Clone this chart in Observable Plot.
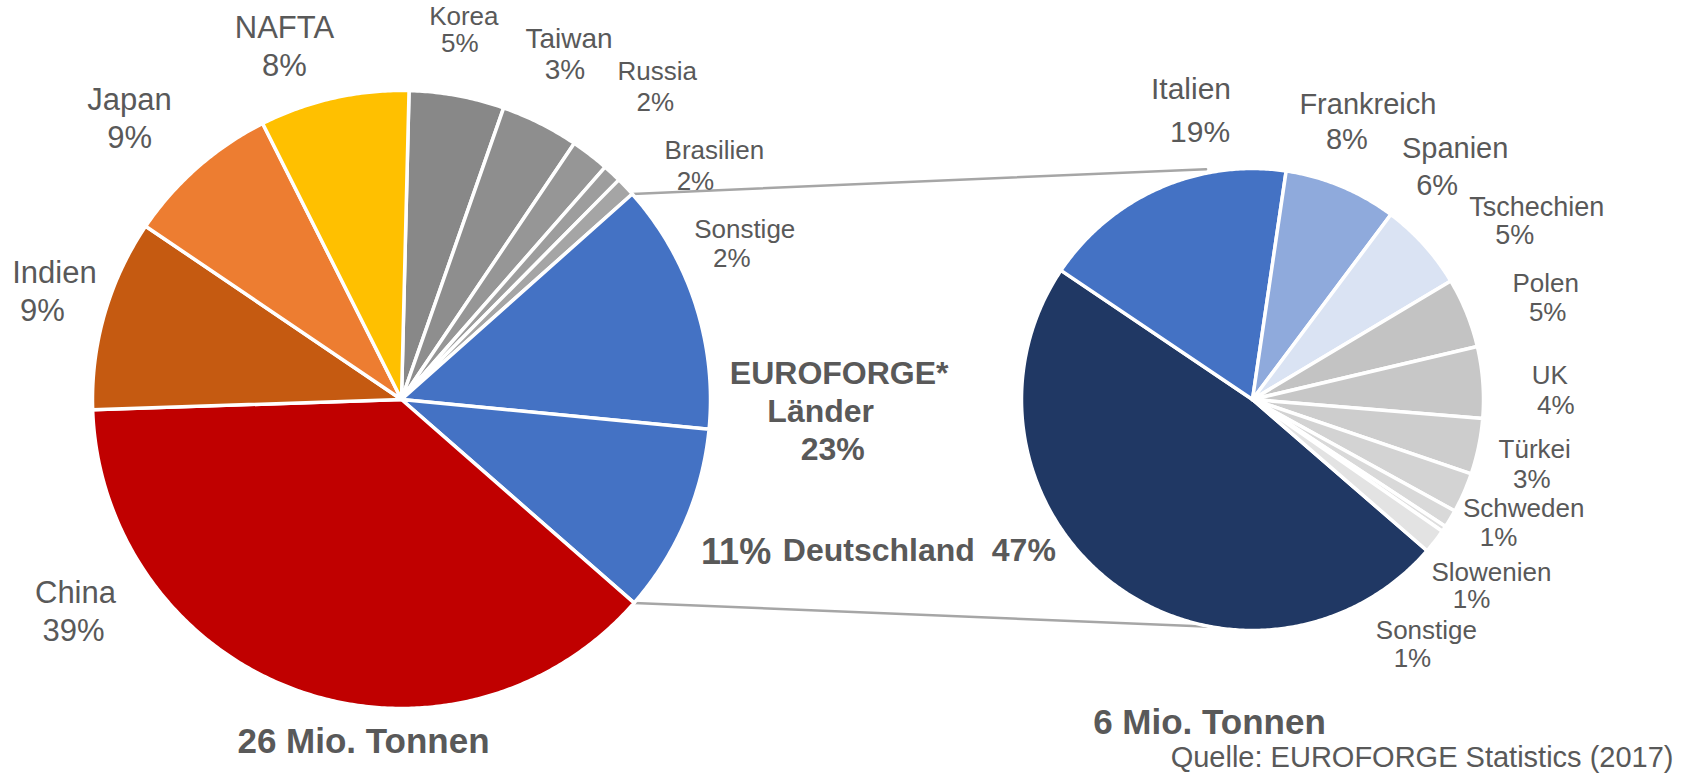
<!DOCTYPE html>
<html>
<head>
<meta charset="utf-8">
<script src="https://cdn.jsdelivr.net/npm/d3@7"></script>
<script src="https://cdn.jsdelivr.net/npm/@observablehq/plot@0.6"></script>
<style>
  html, body { margin: 0; padding: 0; background: #ffffff; }
  #chart svg { display: block; }
</style>
</head>
<body>
<div id="chart"></div>
<script>
// ---------------- DATA ----------------
// World forging production (left pie), clockwise
const worldRegions = ["Korea", "Taiwan", "Russia", "Brasilien", "Sonstige", "EUROFORGE übrige", "Deutschland", "China", "Indien", "Japan", "NAFTA"];
const worldShares  = [4.97, 4.08, 2.0, 0.97, 1.0, 13.1, 9.9, 38.0, 10.0, 8.1, 7.8];
const worldNameLabels = ["Korea", "Taiwan", "Russia", "Brasilien", "Sonstige", "", "", "China", "Indien", "Japan", "NAFTA"];
const worldPctLabels  = ["5%", "3%", "2%", "2%", "2%", "", "11%", "39%", "9%", "9%", "8%"];
// EUROFORGE countries (right pie), clockwise
const europeCountries = ["Deutschland", "Italien", "Frankreich", "Spanien", "Tschechien", "Polen", "UK", "Türkei", "Schweden", "Slowenien", "Sonstige"];
const europeShares    = [48.1, 17.9, 7.9, 6.2, 4.9, 5.0, 3.9, 2.8, 1.25, 0.4, 1.7];
const europePctLabels = ["47%", "19%", "8%", "6%", "5%", "5%", "4%", "3%", "1%", "1%", "1%"];
const groupLabelLines = ["EUROFORGE*", "Länder", "23%"];
const totalLabels = ["26 Mio. Tonnen", "6 Mio. Tonnen"];
const sourceLabel = "Quelle: EUROFORGE Statistics (2017)";

// ---------------- STYLE / LAYOUT ----------------
const W = 1695, H = 775;
const TEXT = "#595959";
const worldColors = ["#888888", "#8e8e8e", "#969696", "#9d9d9d", "#a5a5a5", "#4472C4", "#4472C4", "#C00000", "#C55A11", "#ED7D31", "#FFC000"];
const europeColors = ["#203864", "#4472C4", "#8FAADC", "#DAE3F3", "#c3c3c3", "#c7c7c7", "#cdcdcd", "#d3d3d3", "#d9d9d9", "#dedede", "#e3e3e3"];
const leftPie  = {cx: 401, cy: 399, r: 309, start: 1.4};
const rightPie = {cx: 1252, cy: 399, r: 231, start: 130.9};
// label anchors: [angle (deg, clockwise from 12 o'clock), radius factor], pct line shift [dx, dy], font size
const worldLabelPolar = [[9.24,1.256],[24.95,1.285],[37.95,1.346],[51.5,1.294],[63.7,1.239],null,[114.5,1.19],[239.3,1.227],[289.95,1.195],[317.8,1.31],[342.5,1.26]];
const worldPctShift   = [[-4,27],[-4,31],[-2,31],[-19,31],[-13,29],null,[0,0],[-2,38],[-12,38],[0,38],[0,38]];
const worldFont       = [26, 28, 26, 26, 26, 0, 36, 31, 31, 31, 31];
const europeLabelPolar = [[247.9,1.746],[348.8,1.37],[21.4,1.369],[38.9,1.397],[56,1.484],[68.5,1.364],[85.4,1.291],[100.1,1.241],[112,1.266],[125.9,1.277],[143,1.251]];
const europePctShift   = [[145,0],[9,43],[-21,35],[-18,37],[-22,28],[2,29],[6,30],[-3,30],[-25,29],[-20,27],[-14,28]];
const europeFont       = [32, 30, 29, 29, 27, 26, 26, 26, 26, 26, 26];
const groupPolar = [86.6, 1.419];
const groupShift = [[0,0],[-18.5,38],[-6.5,76]];

// ---------------- GEOMETRY ----------------
const rad = d => d * Math.PI / 180;
const polar = (p, deg, rr) => [p.cx + rr * Math.sin(rad(deg)), p.cy - rr * Math.cos(rad(deg))];

function slices(keys, values, pie) {
  const total = d3.sum(values);
  let a = pie.start;
  return keys.map((k, i) => {
    const a0 = a, a1 = a + values[i] / total * 360;
    a = a1;
    return {key: k, i, a0, a1};
  });
}
function polygons(sl, pie, colors, tag) {
  const pts = [];
  for (const s of sl) {
    const id = tag + ":" + s.i;
    pts.push({id, x: pie.cx, y: pie.cy, color: colors[s.i]});
    const n = Math.max(2, Math.ceil((s.a1 - s.a0) / 0.5));
    for (let j = 0; j <= n; j++) {
      const [x, y] = polar(pie, s.a0 + (s.a1 - s.a0) * j / n, pie.r);
      pts.push({id, x, y, color: colors[s.i]});
    }
  }
  return pts;
}

const worldSlices = slices(worldRegions, worldShares, leftPie);
const europeSlices = slices(europeCountries, europeShares, rightPie);
const polys = [...polygons(worldSlices, leftPie, worldColors, "w"), ...polygons(europeSlices, rightPie, europeColors, "e")];

// connector lines from EUROFORGE group edges to the second pie
const groupStart = worldSlices[worldRegions.indexOf("EUROFORGE übrige")].a0;
const groupEnd = worldSlices[worldRegions.indexOf("Deutschland")].a1;
const connectors = [];
{
  const [x1, y1] = polar(leftPie, groupStart, leftPie.r);
  const [x2, y2] = polar(rightPie, 348.6, rightPie.r + 4);
  connectors.push({id: "top", x: x1, y: y1}, {id: "top", x: x2, y: y2});
  const [x3, y3] = polar(leftPie, groupEnd, leftPie.r);
  const [x4, y4] = polar(rightPie, 190.4, rightPie.r);
  connectors.push({id: "bot", x: x3, y: y3}, {id: "bot", x: x4, y: y4});
}

// labels
const normal = [], bold = [];
worldRegions.forEach((k, i) => {
  const pp = worldLabelPolar[i];
  if (!pp) return;
  const [x, y] = polar(leftPie, pp[0], leftPie.r * pp[1]);
  const target = k === "Deutschland" ? bold : normal;
  if (worldNameLabels[i]) target.push({x, y, text: worldNameLabels[i], size: worldFont[i]});
  target.push({x: x + worldPctShift[i][0], y: y + worldPctShift[i][1], text: worldPctLabels[i], size: worldFont[i]});
});
europeCountries.forEach((k, i) => {
  const pp = europeLabelPolar[i];
  const [x, y] = polar(rightPie, pp[0], rightPie.r * pp[1]);
  const target = k === "Deutschland" ? bold : normal;
  target.push({x, y, text: k, size: europeFont[i]});
  target.push({x: x + europePctShift[i][0], y: y + europePctShift[i][1], text: europePctLabels[i], size: europeFont[i]});
});
{
  const [gx, gy] = polar(leftPie, groupPolar[0], leftPie.r * groupPolar[1]);
  groupLabelLines.forEach((t, i) => bold.push({x: gx + groupShift[i][0], y: gy + groupShift[i][1], text: t, size: 32}));
}
bold.push({x: leftPie.cx - 38, y: leftPie.cy + 342, text: totalLabels[0], size: 35});
bold.push({x: rightPie.cx - 43, y: rightPie.cy + 323, text: totalLabels[1], size: 35});
const sourceRow = [{x: W - 22, y: 757, text: sourceLabel}];

const chart = Plot.plot({
  width: W,
  height: H,
  margin: 0,
  x: {domain: [0, W], range: [0, W], axis: null},
  y: {domain: [0, H], range: [0, H], axis: null},
  color: {type: "identity"},
  style: {fontFamily: "'Liberation Sans', Arial, sans-serif", background: "#ffffff", color: TEXT},
  marks: [
    Plot.line(connectors, {x: "x", y: "y", z: "id", stroke: "#A6A6A6", strokeWidth: 2.5}),
    Plot.line(polys, {x: "x", y: "y", z: "id", fill: "color", stroke: "#ffffff", strokeWidth: 3.5, strokeLinejoin: "round", curve: "linear-closed"}),
    Plot.text(normal, {x: "x", y: "y", text: "text", fontSize: "size", fill: TEXT}),
    Plot.text(bold, {x: "x", y: "y", text: "text", fontSize: "size", fontWeight: "bold", fill: TEXT}),
    Plot.text(sourceRow, {x: "x", y: "y", text: "text", fontSize: 29, textAnchor: "end", fill: TEXT})
  ]
});
document.getElementById("chart").append(chart);
</script>
</body>
</html>
